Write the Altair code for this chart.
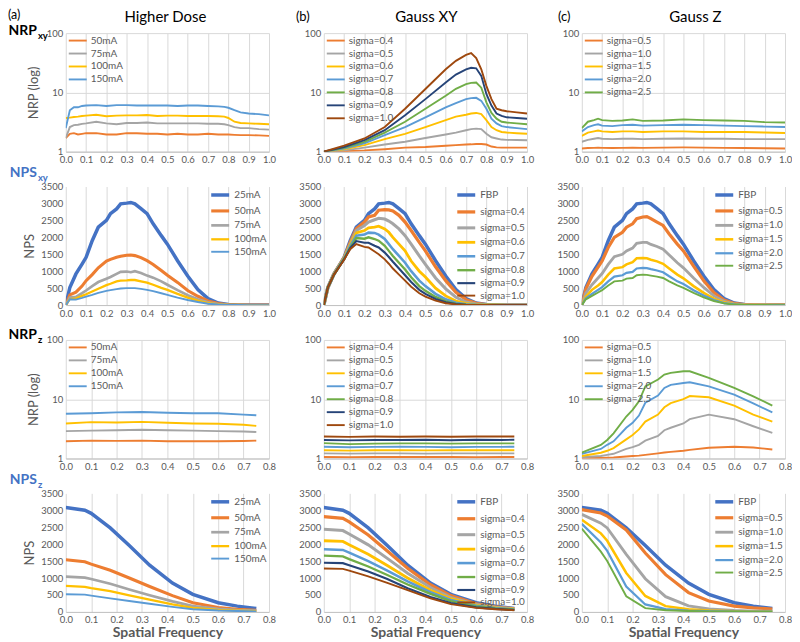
import altair as alt
import pandas as pd

# ---------------- palette (Excel default) ----------------
ORANGE = "#ED7D31"; GRAY = "#A5A5A5"; GOLD = "#FFC000"; LBLUE = "#5B9BD5"
GREEN = "#70AD47"; DBLUE = "#264478"; BROWN = "#9E480E"; BLUE = "#4472C4"
TXT = "#595959"

# ---------------- names ----------------
MA4 = ["50mA", "75mA", "100mA", "150mA"]
MA5 = ["25mA", "50mA", "75mA", "100mA", "150mA"]
SXY = ["sigma=0.4", "sigma=0.5", "sigma=0.6", "sigma=0.7", "sigma=0.8", "sigma=0.9", "sigma=1.0"]
SZ = ["sigma=0.5", "sigma=1.0", "sigma=1.5", "sigma=2.0", "sigma=2.5"]

# ---------------- tick labels ----------------
X_TICKS_10 = [0.0, 0.1, 0.2, 0.3, 0.4, 0.5, 0.6, 0.7, 0.8, 0.9, 1.0]
X_TICKS_08 = [0.0, 0.1, 0.2, 0.3, 0.4, 0.5, 0.6, 0.7, 0.8]
Y_LOG_TICKS = [1, 10, 100]
Y_NPS_TICKS = [0, 500, 1000, 1500, 2000, 2500, 3000, 3500]

# ---------------- Row 1: NRPxy ----------------
X_A1 = [0, 0.02, 0.04, 0.06, 0.08, 0.1, 0.15, 0.2, 0.25, 0.3, 0.35, 0.4, 0.45, 0.5, 0.55,
        0.6, 0.65, 0.7, 0.75, 0.78, 0.8, 0.83, 0.86, 0.9, 0.95, 1.0]
NRPXY_DOSE = {
    "150mA": [2.5, 5.0, 5.6, 5.6, 5.9, 6.0, 6.1, 5.9, 6.1, 6.1, 6.0, 6.0, 6.0, 6.0, 5.9, 6.0, 6.0, 5.9, 5.8, 5.7, 5.5, 5.0, 4.6, 4.4, 4.3, 4.1],
    "100mA": [3.7, 3.75, 3.85, 3.9, 4.0, 4.05, 4.2, 3.95, 4.05, 4.1, 4.1, 4.15, 4.0, 4.05, 4.05, 4.0, 4.0, 4.0, 3.95, 3.9, 3.7, 3.2, 3.05, 3.0, 2.95, 2.9],
    "75mA": [1.7, 2.6, 2.8, 2.85, 2.95, 3.0, 3.2, 3.0, 2.9, 3.05, 3.05, 3.1, 3.0, 3.0, 3.0, 3.0, 3.0, 2.95, 2.95, 2.9, 2.8, 2.6, 2.5, 2.5, 2.4, 2.35],
    "50mA": [1.7, 2.0, 2.05, 1.95, 2.0, 2.05, 2.05, 1.95, 1.95, 2.05, 2.05, 2.0, 2.0, 1.95, 2.0, 1.95, 1.95, 2.0, 1.95, 1.95, 1.95, 1.92, 1.9, 1.9, 1.88, 1.85],
}
X_B1 = [0, 0.1, 0.2, 0.3, 0.4, 0.5, 0.6, 0.65, 0.7, 0.725, 0.75, 0.775, 0.8, 0.825, 0.85, 0.875, 0.9, 0.95, 1.0]
NRPXY_GXY = {
    "sigma=1.0": [1.0, 1.26, 1.67, 2.6, 5.3, 11.4, 24.5, 34, 43, 46, 38, 24.5, 12.9, 7.7, 5.3, 5.0, 4.8, 4.6, 4.4],
    "sigma=0.9": [1.0, 1.2, 1.56, 2.3, 4.1, 7.7, 14.7, 20, 24.5, 26, 25.5, 19, 9.4, 6.0, 4.4, 4.0, 3.8, 3.7, 3.6],
    "sigma=0.8": [1.0, 1.16, 1.46, 2.1, 3.2, 5.3, 8.8, 11.5, 13.8, 14.5, 14.7, 12, 6.8, 4.5, 3.6, 3.2, 3.1, 3.0, 2.9],
    "sigma=0.7": [1.0, 1.13, 1.38, 1.9, 2.6, 3.8, 5.6, 6.6, 7.7, 8.0, 8.1, 7.2, 5.3, 3.6, 3.0, 2.7, 2.6, 2.5, 2.4],
    "sigma=0.6": [1.0, 1.1, 1.29, 1.63, 2.0, 2.6, 3.4, 3.9, 4.2, 4.4, 4.5, 4.3, 3.4, 2.6, 2.3, 2.15, 2.1, 2.05, 2.0],
    "sigma=0.5": [1.0, 1.05, 1.17, 1.32, 1.47, 1.7, 1.95, 2.1, 2.3, 2.4, 2.45, 2.4, 2.0, 1.75, 1.67, 1.6, 1.58, 1.57, 1.56],
    "sigma=0.4": [1.0, 1.02, 1.05, 1.1, 1.17, 1.2, 1.26, 1.29, 1.32, 1.33, 1.35, 1.35, 1.32, 1.22, 1.18, 1.17, 1.17, 1.17, 1.17],
}
X_C1 = [0, 0.03, 0.06, 0.08, 0.1, 0.15, 0.2, 0.25, 0.3, 0.4, 0.5, 0.6, 0.7, 0.8, 0.9, 1.0]
NRPXY_GZ = {
    "sigma=2.5": [2.5, 3.2, 3.4, 3.6, 3.4, 3.3, 3.35, 3.5, 3.3, 3.35, 3.5, 3.4, 3.35, 3.3, 3.15, 3.1],
    "sigma=2.0": [2.2, 2.6, 2.8, 2.9, 2.75, 2.7, 2.8, 2.85, 2.75, 2.8, 2.85, 2.8, 2.75, 2.7, 2.65, 2.6],
    "sigma=1.5": [1.85, 2.1, 2.2, 2.27, 2.2, 2.15, 2.2, 2.2, 2.15, 2.2, 2.2, 2.15, 2.15, 2.15, 2.1, 2.07],
    "sigma=1.0": [1.47, 1.58, 1.65, 1.7, 1.65, 1.63, 1.65, 1.65, 1.63, 1.65, 1.67, 1.65, 1.65, 1.63, 1.63, 1.63],
    "sigma=0.5": [1.13, 1.15, 1.16, 1.17, 1.16, 1.15, 1.16, 1.17, 1.16, 1.17, 1.18, 1.17, 1.16, 1.15, 1.14, 1.13],
}

# ---------------- Row 2: NPSxy ----------------
X_NPSXY = [0, 0.02, 0.05, 0.08, 0.1, 0.13, 0.16, 0.2, 0.22, 0.25, 0.27, 0.3, 0.32, 0.34, 0.37,
           0.4, 0.43, 0.47, 0.5, 0.55, 0.6, 0.65, 0.7, 0.75, 0.8, 0.85, 0.9, 0.95, 1.0]
NPS_XY_FBP = [0, 520, 920, 1210, 1410, 1900, 2300, 2500, 2700, 2840, 2990, 3010, 3030, 2990, 2850,
              2700, 2400, 2050, 1800, 1310, 860, 460, 190, 60, 15, 5, 2, 1, 0]
NPSXY_DOSE = {
    "25mA": NPS_XY_FBP,
    "50mA": [0, 300, 380, 560, 720, 900, 1100, 1300, 1350, 1410, 1440, 1470, 1480, 1460, 1400, 1310, 1200, 1020, 880, 670, 430, 260, 120, 45, 10, 3, 1, 0, 0],
    "75mA": [0, 220, 240, 350, 430, 560, 680, 780, 830, 920, 980, 990, 970, 1000, 950, 870, 810, 700, 600, 440, 290, 170, 80, 30, 8, 2, 1, 0, 0],
    "100mA": [0, 180, 200, 270, 320, 400, 480, 590, 630, 700, 720, 730, 740, 740, 700, 660, 600, 510, 450, 330, 220, 130, 60, 20, 5, 2, 1, 0, 0],
    "150mA": [0, 170, 160, 210, 250, 300, 360, 420, 440, 470, 490, 500, 500, 500, 480, 450, 410, 350, 300, 220, 150, 90, 40, 15, 3, 1, 0, 0, 0],
}
NPSXY_GXY = {
    "FBP": NPS_XY_FBP,
    "sigma=0.4": [0, 520, 920, 1210, 1400, 1850, 2250, 2450, 2600, 2650, 2800, 2820, 2810, 2780, 2650, 2450, 2200, 1850, 1600, 1130, 720, 380, 160, 50, 12, 4, 2, 1, 0],
    "sigma=0.5": [0, 520, 920, 1200, 1390, 1800, 2200, 2350, 2450, 2520, 2560, 2540, 2480, 2400, 2250, 2050, 1800, 1450, 1200, 800, 480, 230, 90, 30, 8, 3, 1, 0, 0],
    "sigma=0.6": [0, 520, 910, 1200, 1380, 1780, 2130, 2200, 2280, 2300, 2330, 2250, 2150, 2000, 1800, 1600, 1300, 1000, 830, 500, 270, 120, 50, 15, 5, 2, 1, 0, 0],
    "sigma=0.7": [0, 520, 910, 1190, 1370, 1750, 2050, 2080, 2140, 2130, 2080, 1950, 1800, 1650, 1450, 1250, 1000, 720, 560, 330, 170, 70, 25, 8, 3, 1, 0, 0, 0],
    "sigma=0.8": [0, 520, 900, 1180, 1360, 1700, 1980, 1960, 2000, 1950, 1900, 1750, 1600, 1450, 1250, 1050, 820, 560, 420, 240, 110, 45, 15, 5, 2, 1, 0, 0, 0],
    "sigma=0.9": [0, 520, 900, 1170, 1350, 1680, 1890, 1840, 1840, 1750, 1700, 1550, 1420, 1280, 1080, 880, 680, 450, 330, 180, 80, 30, 10, 3, 1, 0, 0, 0, 0],
    "sigma=1.0": [0, 520, 900, 1160, 1340, 1650, 1800, 1720, 1700, 1580, 1500, 1350, 1220, 1080, 900, 720, 540, 350, 250, 130, 55, 20, 7, 2, 1, 0, 0, 0, 0],
}
NPSXY_GZ = {
    "FBP": NPS_XY_FBP,
    "sigma=0.5": [0, 480, 850, 1120, 1300, 1700, 2000, 2150, 2300, 2400, 2550, 2600, 2610, 2550, 2450, 2350, 2100, 1800, 1600, 1150, 720, 370, 150, 50, 12, 4, 2, 1, 0],
    "sigma=1.0": [0, 350, 600, 800, 930, 1200, 1430, 1500, 1600, 1680, 1820, 1850, 1850, 1790, 1730, 1650, 1480, 1250, 1100, 800, 520, 270, 110, 35, 8, 3, 1, 0, 0],
    "sigma=1.5": [0, 250, 450, 580, 680, 900, 1080, 1120, 1200, 1270, 1380, 1390, 1380, 1340, 1290, 1220, 1080, 900, 790, 560, 360, 190, 80, 25, 6, 2, 1, 0, 0],
    "sigma=2.0": [0, 200, 330, 450, 530, 700, 840, 880, 950, 980, 1080, 1100, 1090, 1060, 1020, 970, 850, 700, 620, 440, 280, 150, 60, 20, 5, 2, 1, 0, 0],
    "sigma=2.5": [0, 170, 270, 370, 440, 580, 700, 720, 780, 800, 880, 900, 890, 870, 840, 800, 700, 580, 510, 360, 230, 120, 50, 15, 4, 1, 1, 0, 0],
}

# ---------------- Row 3: NRPz ----------------
X_Z9 = [0, 0.1, 0.2, 0.3, 0.4, 0.5, 0.6, 0.7, 0.75]
NRPZ_DOSE = {
    "150mA": [5.7, 5.8, 6.0, 6.1, 5.9, 5.8, 5.8, 5.5, 5.35],
    "100mA": [3.9, 4.1, 4.05, 4.15, 4.0, 3.9, 3.85, 3.7, 3.55],
    "75mA": [2.9, 2.95, 3.0, 3.05, 3.0, 2.95, 2.9, 2.85, 2.8],
    "50mA": [1.95, 2.0, 1.98, 2.0, 1.95, 1.95, 1.95, 1.97, 2.0],
}
NRPZ_GXY = {
    "sigma=0.4": [1.06, 1.05, 1.06, 1.06, 1.06, 1.06, 1.05, 1.06, 1.06],
    "sigma=0.5": [1.22, 1.21, 1.22, 1.22, 1.21, 1.22, 1.22, 1.22, 1.22],
    "sigma=0.6": [1.38, 1.36, 1.38, 1.38, 1.37, 1.38, 1.38, 1.38, 1.38],
    "sigma=0.7": [1.58, 1.55, 1.57, 1.58, 1.57, 1.55, 1.57, 1.57, 1.58],
    "sigma=0.8": [1.82, 1.75, 1.78, 1.8, 1.8, 1.78, 1.8, 1.8, 1.8],
    "sigma=0.9": [2.05, 2.02, 2.05, 2.05, 2.07, 2.03, 2.07, 2.05, 2.07],
    "sigma=1.0": [2.35, 2.32, 2.35, 2.33, 2.35, 2.33, 2.35, 2.35, 2.35],
}
X_Z17 = [0, 0.075, 0.1, 0.125, 0.175, 0.2, 0.225, 0.25, 0.3, 0.325, 0.35, 0.4, 0.425, 0.5, 0.6, 0.675, 0.75]
NRPZ_GZ = {
    "sigma=2.5": [1.26, 1.69, 2.05, 2.66, 5.1, 6.6, 9.2, 16.5, 21.5, 26, 27.8, 29.6, 29.6, 22.9, 15.5, 11.2, 7.8],
    "sigma=2.0": [1.2, 1.45, 1.7, 1.95, 3.3, 4.0, 5.3, 8.7, 11.5, 15.5, 17.5, 18.8, 19.3, 16.5, 12, 8.5, 6.0],
    "sigma=1.5": [1.1, 1.25, 1.35, 1.5, 2.1, 2.5, 3.1, 4.2, 5.5, 7.3, 8.6, 10, 11.3, 10.8, 7.8, 5.5, 4.2],
    "sigma=1.0": [1.05, 1.1, 1.15, 1.2, 1.45, 1.55, 1.7, 2.0, 2.4, 3.0, 3.3, 3.9, 4.6, 5.5, 4.6, 3.5, 2.7],
    "sigma=0.5": [1.02, 1.02, 1.03, 1.04, 1.08, 1.1, 1.12, 1.15, 1.22, 1.26, 1.29, 1.35, 1.4, 1.52, 1.58, 1.53, 1.42],
}

# ---------------- Row 4: NPSz ----------------
X_Z11 = [0, 0.075, 0.1, 0.175, 0.25, 0.33, 0.42, 0.5, 0.6, 0.675, 0.75]
NPS_Z_FBP = [3080, 3000, 2910, 2480, 1960, 1380, 850, 520, 270, 170, 100]
NPSZ_DOSE = {
    "25mA": NPS_Z_FBP,
    "50mA": [1540, 1480, 1410, 1230, 1000, 750, 480, 270, 130, 80, 45],
    "75mA": [1040, 1010, 970, 830, 660, 490, 310, 170, 90, 55, 35],
    "100mA": [770, 740, 700, 610, 490, 360, 220, 120, 60, 35, 22],
    "150mA": [520, 510, 480, 400, 320, 240, 150, 80, 40, 25, 15],
}
NPSZ_GXY = {
    "FBP": NPS_Z_FBP,
    "sigma=0.4": [2810, 2760, 2660, 2270, 1800, 1290, 800, 480, 240, 150, 90],
    "sigma=0.5": [2440, 2400, 2300, 1980, 1580, 1140, 720, 430, 220, 140, 85],
    "sigma=0.6": [2100, 2080, 1980, 1700, 1370, 1000, 640, 390, 200, 125, 78],
    "sigma=0.7": [1850, 1830, 1750, 1500, 1220, 900, 580, 350, 180, 115, 72],
    "sigma=0.8": [1660, 1640, 1560, 1340, 1090, 810, 530, 320, 165, 105, 66],
    "sigma=0.9": [1450, 1440, 1380, 1190, 970, 700, 440, 260, 135, 88, 55],
    "sigma=1.0": [1280, 1270, 1220, 1050, 860, 640, 400, 230, 120, 80, 50],
}
NPSZ_GZ = {
    "FBP": NPS_Z_FBP,
    "sigma=0.5": [3020, 2920, 2830, 2420, 1740, 1100, 570, 320, 170, 120, 85],
    "sigma=1.0": [2880, 2620, 2480, 1700, 980, 450, 180, 90, 40, 25, 18],
    "sigma=1.5": [2720, 2320, 2100, 1150, 470, 170, 80, 40, 20, 15, 12],
    "sigma=2.0": [2600, 2050, 1800, 750, 220, 80, 40, 20, 12, 10, 8],
    "sigma=2.5": [2460, 1780, 1500, 460, 110, 50, 25, 15, 10, 8, 6],
}

# ---------------- layout ----------------
W, H = 204, 119
FONT = "Lato"
THIN, THICK = 1.9, 3.5


def long_df(xs, names, table):
    rows = []
    for n in names:
        for x, v in zip(xs, table[n]):
            rows.append({"x": x, "value": v, "series": n})
    return pd.DataFrame(rows)


def txt(s, x, y, size, weight="normal", color="black", align="left"):
    return alt.Chart(pd.DataFrame({"t": [s]})).mark_text(
        align=align, baseline="alphabetic", fontSize=size, fontWeight=weight,
        color=color, font=FONT
    ).encode(x=alt.value(x), y=alt.value(y), text="t:N")


def panel(xs, names, table, colors, widths, xticks, log, orient, ytitle=None, xtitle=None, texts=()):
    df = long_df(xs, names, table)
    if log:
        yscale = alt.Scale(type="log", domain=[1, 100], nice=False)
        yaxis = alt.Axis(values=Y_LOG_TICKS, format="d", grid=True, domain=False, title=ytitle,
                         labelFlush=False, titleFontSize=13, titleFontWeight="normal", titlePadding=6)
    else:
        yscale = alt.Scale(domain=[0, 3500], nice=False)
        yaxis = alt.Axis(values=Y_NPS_TICKS, format="d", grid=False, domain=False, title=ytitle,
                         labelFlush=False, titleFontSize=13, titleFontWeight="normal", titlePadding=4)
    xaxis = alt.Axis(values=xticks, format=".1f", grid=True, title=xtitle, labelFlush=False,
                     titleFontSize=14, titleFontWeight="bold", titlePadding=1)
    leg = alt.Legend(title=None, orient=orient, symbolType="M-1,0H3", symbolSize=81,
                     labelFont=FONT, labelFontSize=10, labelColor=TXT, rowPadding=2,
                     offset=2, padding=0, labelOffset=12)
    line = alt.Chart(df).mark_line(clip=True).encode(
        x=alt.X("x:Q", scale=alt.Scale(domain=[0, xticks[-1]], nice=False), axis=xaxis),
        y=alt.Y("value:Q", scale=yscale, axis=yaxis),
        color=alt.Color("series:N", scale=alt.Scale(domain=names, range=colors), legend=leg, sort=names),
        strokeWidth=alt.StrokeWidth("series:N", scale=alt.Scale(domain=names, range=widths), legend=leg, sort=names),
    )
    return alt.layer(line, *texts).properties(width=W, height=H)


C_MA4 = [ORANGE, GRAY, GOLD, LBLUE]
C_MA5 = [BLUE, ORANGE, GRAY, GOLD, LBLUE]
C_SXY = [ORANGE, GRAY, GOLD, LBLUE, GREEN, DBLUE, BROWN]
C_FSXY = [BLUE] + C_SXY
C_SZ = [ORANGE, GRAY, GOLD, LBLUE, GREEN]
C_FSZ = [BLUE] + C_SZ

panels = [
    # row 1
    panel(X_A1, MA4, NRPXY_DOSE, C_MA4, [THIN] * 4, X_TICKS_10, True, "top-left", ytitle="NRP (log)",
          texts=[txt("(a)", -58, -14, 12.5), txt("Higher Dose", W / 2 - 2, -11, 15, align="center"),
                 txt("NRP", -29, 2, 14, "bold", "black", "right"), txt("xy", -28, 6, 9.5, "bold")]),
    panel(X_B1, SXY, NRPXY_GXY, C_SXY, [THIN] * 7, X_TICKS_10, True, "top-left",
          texts=[txt("(b)", -28, -12, 13), txt("Gauss XY", W / 2 + 1, -11, 15, align="center")]),
    panel(X_C1, SZ, NRPXY_GZ, C_SZ, [THIN] * 5, X_TICKS_10, True, "top-left",
          texts=[txt("(c)", -24, -12, 13), txt("Gauss Z", W / 2 + 12, -11, 15, align="center")]),
    # row 2
    panel(X_NPSXY, MA5, NPSXY_DOSE, C_MA5, [THICK] + [THIN] * 4, X_TICKS_10, False, "top-right", ytitle="NPS",
          texts=[txt("NPS", -29, -10, 14, "bold", BLUE, "right"), txt("xy", -28, -6, 9.5, "bold", BLUE)]),
    panel(X_NPSXY, ["FBP"] + SXY, NPSXY_GXY, C_FSXY, [THICK] + [THIN] * 7, X_TICKS_10, False, "top-right"),
    panel(X_NPSXY, ["FBP"] + SZ, NPSXY_GZ, C_FSZ, [THICK] + [THIN] * 5, X_TICKS_10, False, "top-right"),
    # row 3
    panel(X_Z9, MA4, NRPZ_DOSE, C_MA4, [THIN] * 4, X_TICKS_08, True, "top-left", ytitle="NRP (log)",
          texts=[txt("NRP", -29, -1, 14, "bold", "black", "right"), txt("z", -28, 3, 9.5, "bold")]),
    panel(X_Z9, SXY, NRPZ_GXY, C_SXY, [THIN] * 7, X_TICKS_08, True, "top-left"),
    panel(X_Z17, SZ, NRPZ_GZ, C_SZ, [THIN] * 5, X_TICKS_08, True, "top-left"),
    # row 4
    panel(X_Z11, MA5, NPSZ_DOSE, C_MA5, [THICK] + [THIN] * 4, X_TICKS_08, False, "top-right", ytitle="NPS",
          xtitle="Spatial Frequency",
          texts=[txt("NPS", -29, -9, 14, "bold", BLUE, "right"), txt("z", -28, -5, 9.5, "bold", BLUE)]),
    panel(X_Z11, ["FBP"] + SXY, NPSZ_GXY, C_FSXY, [THICK] + [THIN] * 7, X_TICKS_08, False, "top-right",
          xtitle="Spatial Frequency"),
    panel(X_Z11, ["FBP"] + SZ, NPSZ_GZ, C_FSZ, [THICK] + [THIN] * 5, X_TICKS_08, False, "top-right",
          xtitle="Spatial Frequency"),
]

chart = alt.concat(
    *panels, columns=3, spacing={"row": 35, "column": 55}, bounds="flush"
).resolve_scale(
    color="independent", strokeWidth="independent"
).properties(
    padding=0, background="white"
).configure_view(
    stroke=None
).configure_axis(
    labelFont=FONT, labelFontSize=9.5, labelColor=TXT, titleFont=FONT, titleColor=TXT,
    gridColor="#D9D9D9", domainColor="#BFBFBF", ticks=False, labelPadding=3
)

chart.save("out.html", embed_options={"renderer": "svg", "actions": False})
